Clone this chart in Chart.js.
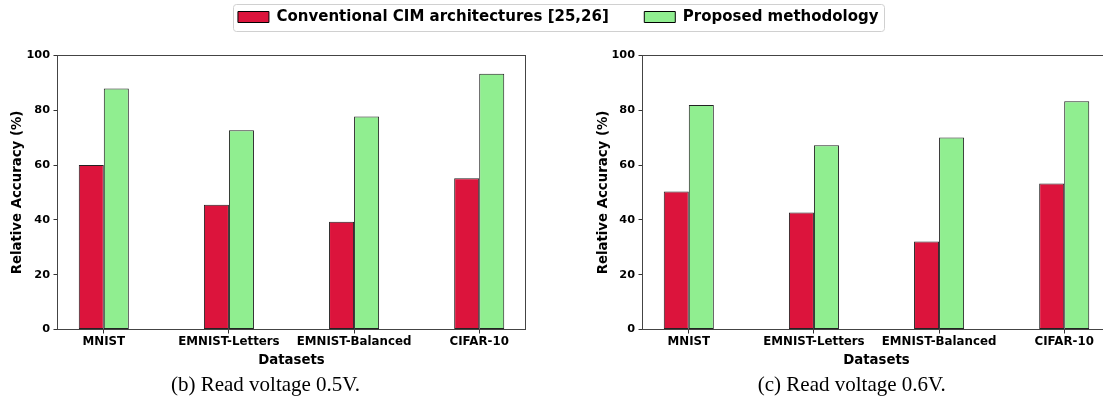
<!DOCTYPE html>
<html><head><meta charset="utf-8">
<script src="https://cdn.jsdelivr.net/npm/chart.js@4/dist/chart.umd.min.js"></script>
<style>
html,body{margin:0;padding:0;background:#fff;width:1103px;height:409px;overflow:hidden;position:relative}
.c{position:absolute}
</style></head><body>
<div class="c" style="left:0;top:-26px;width:1103px;height:120px"><canvas id="lg"></canvas></div>
<div class="c" style="left:0;top:40px;width:560px;height:369px"><canvas id="ca"></canvas></div>
<div class="c" style="left:585px;top:40px;width:560px;height:369px"><canvas id="cb"></canvas></div>
<script>
const categories = ['MNIST', 'EMNIST-Letters', 'EMNIST-Balanced', 'CIFAR-10'];
const seriesNames = ['Conventional CIM architectures [25,26]', 'Proposed methodology'];
const conv05 = [60.0, 45.5, 39.3, 55.2];
const prop05 = [88.0, 72.7, 77.7, 93.3];
const conv06 = [50.4, 42.7, 32.1, 53.3];
const prop06 = [81.9, 67.2, 70.1, 83.3];
const yTicks = [0, 20, 40, 60, 80, 100];
const captions = ['(b) Read voltage 0.5V.', '(c) Read voltage 0.6V.'];
const xTitle = 'Datasets';
const yTitle = 'Relative Accuracy (%)';

const RED = '#DC143C', GREEN = '#90EE90', EDGE = '#222222';
Chart.defaults.font.family = "'DejaVu Sans', sans-serif";
Chart.defaults.color = '#000';

const framePlugin = {
  id: 'frame',
  afterDatasetsDraw(chart) {
    const {ctx, chartArea: a} = chart;
    ctx.save();
    ctx.strokeStyle = '#444444';
    ctx.lineWidth = 1;
    ctx.strokeRect(a.left, a.top, a.right - a.left, a.bottom - a.top);
    ctx.restore();
  }
};

function makePanel(id, conv, prop, caption, padLeft, yTitlePad) {
  const toPts = arr => arr.map((v, i) => ({x: i, y: v}));
  return new Chart(document.getElementById(id), {
    type: 'bar',
    data: {
      datasets: [
        {label: seriesNames[0], data: toPts(conv), backgroundColor: RED, borderColor: EDGE, borderWidth: 1, borderSkipped: false},
        {label: seriesNames[1], data: toPts(prop), backgroundColor: GREEN, borderColor: EDGE, borderWidth: 1, borderSkipped: false}
      ]
    },
    options: {
      responsive: true, maintainAspectRatio: false, animation: false,
      categoryPercentage: 0.4, barPercentage: 1.0,
      layout: {padding: {left: padLeft, right: 34.5, top: 15.5, bottom: 10.9}},
      scales: {
        x: {
          type: 'linear', min: -0.37, max: 3.37, bounds: 'data', offset: false,
          afterBuildTicks: s => { s.ticks = categories.map((c, i) => ({value: i})); },
          afterFit: s => { s.height = 42; },
          border: {display: false},
          grid: {offset: false, drawOnChartArea: false, drawTicks: true, tickLength: 4, color: '#333'},
          ticks: {autoSkip: false, maxRotation: 0, padding: 1, color: '#000',
                  font: {size: 11.8, weight: 'bold'},
                  callback: v => categories[v]},
          title: {display: true, text: xTitle, color: '#000',
                  font: {size: 13.3, weight: 'bold', lineHeight: 1.2}, padding: {top: 0, bottom: 3.2}}
        },
        y: {
          min: 0, max: 100,
          afterBuildTicks: s => { s.ticks = yTicks.map(v => ({value: v})); },
          afterFit: s => { s.width = 57.5 - padLeft; },
          border: {display: false},
          grid: {offset: false, drawOnChartArea: false, drawTicks: true, tickLength: 4, color: '#333'},
          ticks: {padding: 3.5, color: '#000', font: {size: 11.3, weight: 'bold'}},
          title: {display: true, text: yTitle, color: '#000',
                  font: {size: 13.3, weight: 'bold', lineHeight: 1.2}, padding: {top: yTitlePad, bottom: 0}}
        }
      },
      plugins: {
        legend: {display: false},
        tooltip: {enabled: false},
        title: {display: true, position: 'bottom', text: caption, color: '#000',
                font: {family: "'Liberation Serif', serif", size: 21, weight: 'normal', lineHeight: 1.2},
                padding: {top: 1.4, bottom: 0}}
      }
    },
    plugins: [framePlugin]
  });
}

makePanel('ca', conv05, prop05, captions[0], 5.5, 3.8);
makePanel('cb', conv06, prop06, captions[1], 8, 2.3);

const legendFrame = {
  id: 'legendFrame',
  afterDraw(chart) {
    const hb = chart.legend.legendHitBoxes;
    if (!hb || !hb.length) return;
    const l = Math.round(hb[0].left - 5) + 0.5;
    const last = hb[hb.length - 1];
    const r = Math.round(last.left + last.width + 5) + 0.5;
    const cy = hb[0].top + hb[0].height / 2;
    const t = Math.round(cy - 13) + 0.5, b = Math.round(cy + 14) + 0.5;
    const ctx = chart.ctx, rad = 3;
    ctx.save();
    ctx.strokeStyle = '#d0d0d0';
    ctx.lineWidth = 1;
    ctx.beginPath();
    ctx.moveTo(l + rad, t);
    ctx.lineTo(r - rad, t); ctx.arcTo(r, t, r, t + rad, rad);
    ctx.lineTo(r, b - rad); ctx.arcTo(r, b, r - rad, b, rad);
    ctx.lineTo(l + rad, b); ctx.arcTo(l, b, l, b - rad, rad);
    ctx.lineTo(l, t + rad); ctx.arcTo(l, t, l + rad, t, rad);
    ctx.stroke();
    ctx.restore();
  }
};

new Chart(document.getElementById('lg'), {
  type: 'bar',
  data: {
    labels: [],
    datasets: [
      {label: seriesNames[0], data: [], backgroundColor: RED, borderColor: '#000', borderWidth: 1},
      {label: seriesNames[1], data: [], backgroundColor: GREEN, borderColor: '#000', borderWidth: 1}
    ]
  },
  options: {
    responsive: true, maintainAspectRatio: false, animation: false,
    layout: {padding: {left: 13.5, top: 0, right: 0, bottom: 0}},
    scales: {x: {display: false}, y: {display: false}},
    plugins: {
      tooltip: {enabled: false},
      legend: {display: true, position: 'top', align: 'center',
        labels: {boxWidth: 31, boxHeight: 11, padding: 35.5, color: '#000',
                 font: {size: 15, weight: 'bold'}}}
    }
  },
  plugins: [legendFrame]
});
</script>
</body></html>
